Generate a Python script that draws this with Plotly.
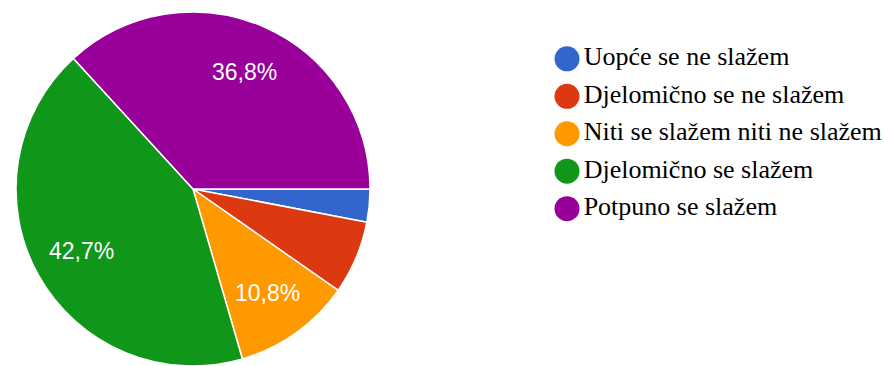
import math
import plotly.graph_objects as go

# Survey answers (share of respondents, %)
categories = [
    "Uopće se ne slažem",
    "Djelomično se ne slažem",
    "Niti se slažem niti ne slažem",
    "Djelomično se slažem",
    "Potpuno se slažem",
]
shares = [3.0, 6.7, 10.8, 42.7, 36.8]
colors = ["#3366cc", "#dc3912", "#ff9900", "#109618", "#990099"]

# Slice labels use a decimal comma; thin slices stay unlabeled
labels = [f"{v:.1f}%".replace(".", ",") if v >= 8 else "" for v in shares]

W, H = 884, 366
TOP = 12
R = 177
CX = 193
CY = TOP + R
LABEL_R = 0.72  # label distance from the centre, as a fraction of the radius

fig = go.Figure()

fig.add_trace(go.Pie(
    labels=categories,
    values=shares,
    textinfo="none",
    marker=dict(colors=colors, line=dict(color="white", width=1.5)),
    sort=False,
    direction="clockwise",
    rotation=90,
    hole=0,
    showlegend=False,
    domain=dict(x=[(CX - R) / W, (CX + R) / W], y=[0, 1]),
))

# Percentage labels placed along each slice's middle angle
total = sum(shares)
start = 0.0
for v, lab in zip(shares, labels):
    mid = (start + v / 2) / total * 2 * math.pi  # clockwise from 3 o'clock
    start += v
    if not lab:
        continue
    px = CX + LABEL_R * R * math.cos(mid)
    py = CY + LABEL_R * R * math.sin(mid)
    fig.add_annotation(
        x=px / W,
        y=1 - (py - TOP) / (H - TOP),
        xref="paper", yref="paper",
        text=lab,
        showarrow=False,
        xanchor="center", yanchor="middle",
        font=dict(family="Liberation Sans", size=23, color="white"),
    )

# Legend: one coloured dot per answer with its caption
rows = list(range(len(categories)))
fig.add_trace(go.Scatter(
    x=[567] * len(categories),
    y=rows,
    mode="markers+text",
    marker=dict(size=25, color=colors),
    text=categories,
    textposition="middle right",
    textfont=dict(family="Liberation Serif", size=26, color="#000000"),
    hoverinfo="skip",
    showlegend=False,
    cliponaxis=False,
))

fig.update_xaxes(range=[0, W], visible=False, fixedrange=True)
fig.update_yaxes(range=[8.2, -1.25], visible=False, fixedrange=True)

fig.update_layout(
    width=W,
    height=H,
    margin=dict(l=0, r=0, t=TOP, b=0),
    paper_bgcolor="white",
    plot_bgcolor="rgba(0,0,0,0)",
)

fig.write_html("out.html")
